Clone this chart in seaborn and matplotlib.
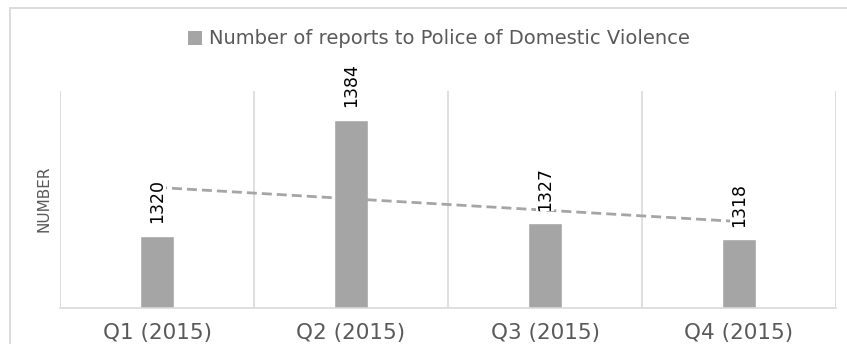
import numpy as np
import pandas as pd
import matplotlib
matplotlib.use("Agg")
import matplotlib.pyplot as plt
from matplotlib.lines import Line2D
from matplotlib.patches import Patch
from matplotlib.ticker import FixedLocator
import seaborn as sns

quarters = ["Q1 (2015)", "Q2 (2015)", "Q3 (2015)", "Q4 (2015)"]
reports = [1320, 1384, 1327, 1318]
series_name = "Number of reports to Police of Domestic Violence"
y_title = "NUMBER"

BAR = "#a5a5a5"
GRID = "#d9d9d9"
TEXT = "#595959"

sns.set_theme(style="white")
plt.rcParams["font.family"] = ["DejaVu Sans"]

df = pd.DataFrame({"quarter": quarters, "reports": reports})

W, H = 847, 344
fig = plt.figure(figsize=(W / 100, H / 100), dpi=100)
fig.patch.set_edgecolor("none")
fig.patch.set_linewidth(0)
ax = fig.add_axes([60 / W, 1 - 308 / H, (836 - 60) / W, (308 - 91) / H])

sns.barplot(data=df, x="quarter", y="reports", color=BAR, width=0.18,
            saturation=1, ax=ax, zorder=2)
ax.set_ylim(1280, 1400)
ax.set_xlim(-0.5, len(quarters) - 0.5)

# linear trend over the four quarters
xs = np.arange(len(reports))
slope, intercept = np.polyfit(xs, reports, 1)
trend = pd.DataFrame({"x": xs, "y": slope * xs + intercept})
ax.plot(trend["x"], trend["y"], color=BAR, lw=2.0,
        linestyle=(0, (3.6, 1.8)), zorder=3)

# value labels above the bars
for i, v in enumerate(reports):
    ax.annotate(str(v), xy=(i, v), xytext=(0, 9), textcoords="offset points",
                rotation=90, ha="center", va="bottom", fontsize=12.5,
                color="black", zorder=5,
                bbox=dict(boxstyle="square,pad=0", fc="white", ec="none"))

# category separators
ax.xaxis.set_minor_locator(FixedLocator(np.arange(-0.5, len(quarters), 1.0)))
ax.grid(True, which="minor", axis="x", color=GRID, lw=1.2, zorder=0)
ax.grid(False, which="major")
ax.set_yticks([])
ax.tick_params(axis="x", which="both", length=0, pad=11,
               labelsize=15.5, labelcolor=TEXT)
for s in ("top", "right", "left"):
    ax.spines[s].set_visible(False)
ax.spines["bottom"].set_color(GRID)
ax.spines["bottom"].set_linewidth(1.2)
ax.set_xlabel("")
ax.set_ylabel("")

fig.text(44 / W, 1 - 199 / H, y_title, rotation=90, ha="center",
         va="center", fontsize=11, color=TEXT)

fig.legend(handles=[Patch(facecolor=BAR, edgecolor="none", label=series_name)],
           loc="center", bbox_to_anchor=(439 / W, 1 - 39 / H), frameon=False,
           fontsize=14, labelcolor=TEXT, handlelength=0.7, handleheight=0.7,
           handletextpad=0.35, borderpad=0)

# chart frame (continues past the right and bottom edges)
fig.add_artist(Line2D([9.5 / W, 9.5 / W], [-0.05, 1 - 7.5 / H],
                      transform=fig.transFigure, color=GRID, lw=1.3))
fig.add_artist(Line2D([9.5 / W, 1.05], [1 - 7.5 / H, 1 - 7.5 / H],
                      transform=fig.transFigure, color=GRID, lw=1.3))

fig.savefig("out.png", dpi=100)
